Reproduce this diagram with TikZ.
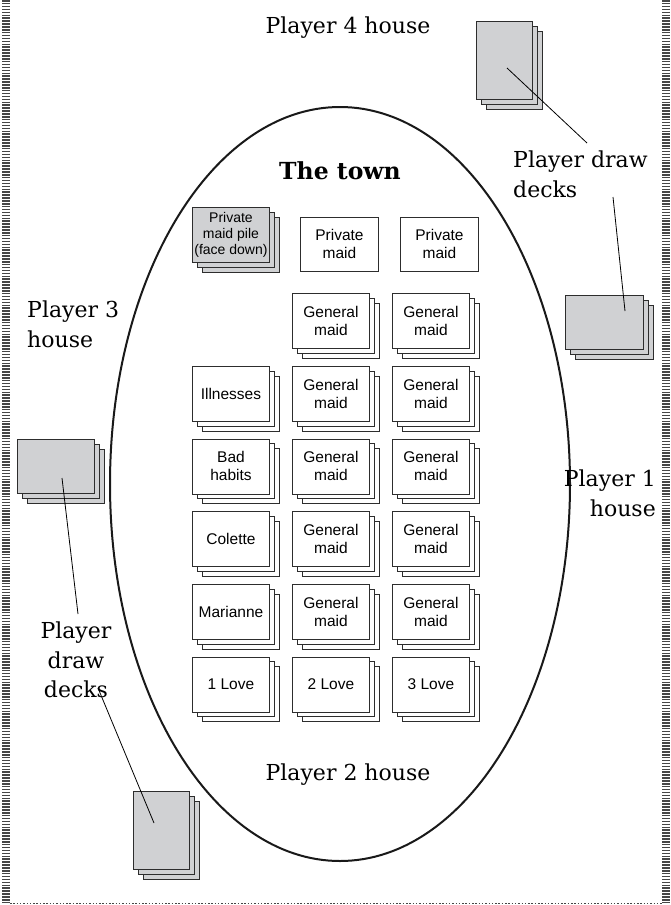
\documentclass[tikz,border=0pt]{standalone}
\usepackage{fontspec}
\newfontfamily\cardfont{Liberation Sans}
\newfontfamily\lblfont{DejaVu Serif}
\definecolor{deckgray}{RGB}{208,209,211}
\definecolor{edge}{RGB}{45,45,45}
\definecolor{framec}{RGB}{70,70,70}
\tikzset{
  cardline/.style={draw=edge,line width=0.9pt},
  cardnode/.style={cardline,inner sep=0pt,align=center,
     font=\cardfont\fontsize{15.5}{18}\selectfont},
  smallcard/.style={font=\cardfont\fontsize{14}{16}\selectfont},
  lbl/.style={inner sep=0pt,font=\lblfont\fontsize{22}{29.5}\selectfont},
  pointer/.style={draw=black,line width=0.8pt},
}
\newcommand\cardstack[8][]{%
  \draw[cardline,fill=#7] ({#3+10},{#4+10}) rectangle ++(#5,#6);
  \draw[cardline,fill=#7] ({#3+5},{#4+5}) rectangle ++(#5,#6);
  \node[cardnode,fill=#7,minimum width=#5pt,minimum height=#6pt,anchor=north west,#1] (#2) at (#3,#4) {#8};
}
\begin{document}
\begin{tikzpicture}[x=1pt,y=-1pt]
\useasboundingbox (0,0) rectangle (670,905);
% frame
\draw[framec,line width=8pt,dash pattern=on 1.5pt off 1.4pt] (6,0) -- (6,905);
\draw[framec,line width=8pt,dash pattern=on 1.5pt off 1.4pt] (666,0) -- (666,905);
\draw[framec,line width=1.8pt,dash pattern=on 1.5pt off 1.8pt] (10,903.5) -- (662,903.5);
% town
\draw[line width=2pt,black!90] (340,484) ellipse [x radius=230pt, y radius=377pt];
\node[lbl,font=\lblfont\bfseries\fontsize{23.5}{27}\selectfont,anchor=base] (town) at (340,179) {The town};
% private maids
\cardstack[smallcard]{pile}{192}{207}{77}{55}{deckgray}{Private\\maid pile\\(face down)}
\node[cardnode,fill=white,minimum width=78pt,minimum height=54pt,anchor=north west] (pm1) at (300,217) {Private\\maid};
\node[cardnode,fill=white,minimum width=78pt,minimum height=54pt,anchor=north west] (pm2) at (400,217) {Private\\maid};
% grid
\cardstack{g12}{292}{293}{77}{55}{white}{General\\maid}
\cardstack{g13}{392}{293}{77}{55}{white}{General\\maid}
\cardstack{ill}{192}{366}{77}{55}{white}{Illnesses}
\cardstack{g22}{292}{366}{77}{55}{white}{General\\maid}
\cardstack{g23}{392}{366}{77}{55}{white}{General\\maid}
\cardstack{bad}{192}{438.5}{77}{55}{white}{Bad\\habits}
\cardstack{g32}{292}{438.5}{77}{55}{white}{General\\maid}
\cardstack{g33}{392}{438.5}{77}{55}{white}{General\\maid}
\cardstack{col}{192}{511}{77}{55}{white}{Colette}
\cardstack{g42}{292}{511}{77}{55}{white}{General\\maid}
\cardstack{g43}{392}{511}{77}{55}{white}{General\\maid}
\cardstack{mar}{192}{584}{77}{55}{white}{Marianne}
\cardstack{g52}{292}{584}{77}{55}{white}{General\\maid}
\cardstack{g53}{392}{584}{77}{55}{white}{General\\maid}
\cardstack{l1}{192}{656.5}{77}{55}{white}{1 Love}
\cardstack{l2}{292}{656.5}{77}{55}{white}{2 Love}
\cardstack{l3}{392}{656.5}{77}{55}{white}{3 Love}
% player decks
\cardstack{dtr}{476}{21}{56}{78}{deckgray}{}
\cardstack{dr}{565}{295}{78}{54}{deckgray}{}
\cardstack{dl}{17}{439}{77}{54}{deckgray}{}
\cardstack{db}{133}{791}{56}{78}{deckgray}{}
% labels
\node[lbl,anchor=base] (p4) at (348,33) {Player 4 house};
\node[lbl,anchor=base] (p2) at (348,780) {Player 2 house};
\node[lbl,anchor=north west,align=left] (p3) at (27,301) {Player 3\\house};
\node[lbl,anchor=north east,align=right] (p1) at (656,470) {Player 1\\house};
\node[lbl,anchor=north west,align=left] (pdr) at (513,151) {Player draw\\decks};
\node[lbl,anchor=north,align=center] (pdl) at (76,622) {Player\\draw\\decks};
% pointers
\coordinate (c1a) at (507,68);
\coordinate (c1b) at (587,143);
\coordinate (c2a) at (613,197);
\coordinate (c2b) at (625,311);
\coordinate (c3a) at (62,478);
\coordinate (c3b) at (78,614);
\coordinate (c4a) at (98,688);
\coordinate (c4b) at (154,823);
\draw[pointer] (c1a) -- (c1b);
\draw[pointer] (c2a) -- (c2b);
\draw[pointer] (c3a) -- (c3b);
\draw[pointer] (c4a) -- (c4b);
\end{tikzpicture}
\end{document}
